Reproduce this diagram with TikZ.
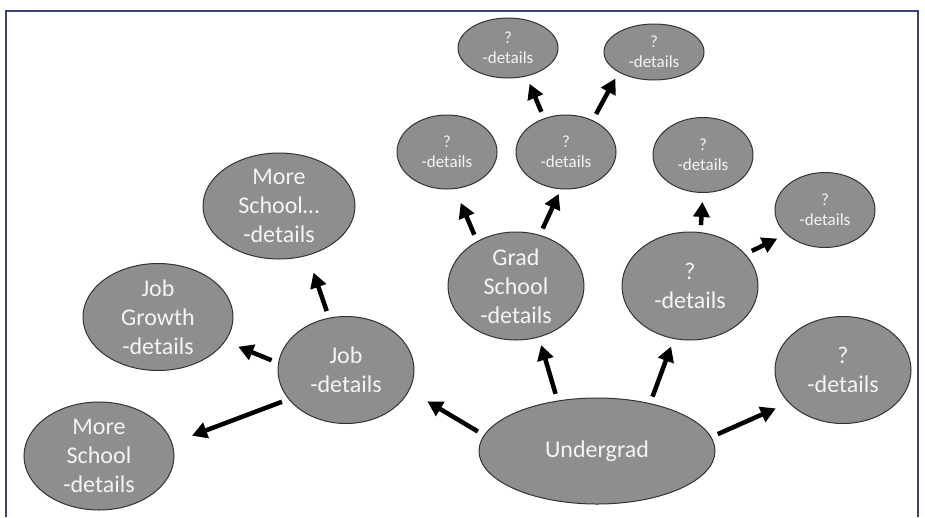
\documentclass[tikz,border=0pt]{standalone}
\usepackage{fontspec}
\setmainfont{Carlito}
\usetikzlibrary{shapes.geometric,arrows.meta}
\definecolor{ovalgrey}{RGB}{142,142,142}
\definecolor{ovaltext}{RGB}{244,244,244}
\definecolor{framecol}{RGB}{58,66,122}

\begin{document}
\begin{tikzpicture}[x=1pt,y=-1pt,
  bigoval/.style={ellipse, draw=black!80, line width=1pt, fill=ovalgrey, text=ovaltext,
    align=center, inner xsep=0pt, inner ysep=-6pt, font=\fontsize{24}{29}\selectfont},
  smalloval/.style={bigoval, font=\fontsize{17}{20}\selectfont},
  arr/.style={-{Triangle[length=15pt,width=16pt]}, line width=4.5pt, shorten <=7pt}]
\useasboundingbox (0,0) rectangle (925,517);
\draw[framecol, line width=2pt] (6,517) -- (6,11) -- (918,11) -- (918,517);
\node[bigoval, minimum width=236pt, minimum height=106pt] (ug) at (597,451) {Undergrad};
\node[bigoval, minimum width=136pt, minimum height=107pt] (job) at (346,370) {Job\\-details};
\node[bigoval, minimum width=150pt, minimum height=107pt] (jobgrowth) at (158,317) {Job\\Growth\\-details};
\node[bigoval, minimum width=150pt, minimum height=108pt] (moreschool) at (99,456) {More\\School\\-details};
\node[bigoval, minimum width=152pt, minimum height=106pt] (moreschoolb) at (279,206) {More\\School…\\-details};
\node[bigoval, minimum width=136pt, minimum height=108pt] (grad) at (516,286) {Grad\\School\\-details};
\node[bigoval, minimum width=136pt, minimum height=108pt] (qmid) at (690,286) {?\\-details};
\node[bigoval, minimum width=136pt, minimum height=107pt] (qright) at (843,370) {?\\-details};
\node[smalloval, minimum width=100pt, minimum height=74pt] (gq1) at (447,152) {?\\-details};
\node[smalloval, minimum width=100pt, minimum height=74pt] (gq2) at (566,152) {?\\-details};
\node[smalloval, minimum width=100pt, minimum height=60pt] (gq3) at (508,48) {?\\-details};
\node[smalloval, minimum width=100pt, minimum height=56pt] (gq4) at (654,52) {?\\-details};
\node[smalloval, minimum width=100pt, minimum height=75pt] (qq1) at (703,155) {?\\-details};
\node[smalloval, minimum width=100pt, minimum height=75pt] (qq2) at (825,210) {?\\-details};
\draw[arr, shorten >=21pt] (ug.172) -- (job.-18);
\draw[arr, shorten >=8pt] (ug.128) -- (grad.-66);
\draw[arr, shorten >=8pt] (ug.42) -- (qmid.-107);
\draw[arr, shorten >=14pt] (ug.7.5) -- (qright.-149.5);
\draw[arr, shorten >=21pt] (job.207) -- (moreschool.10);
\draw[arr, shorten >=14pt] (job.174) -- (jobgrowth.-20);
\draw[arr, shorten >=18pt] (job.108) -- (moreschoolb.-60);
\draw[arr, shorten >=15pt] (grad.131) -- (gq1.-78);
\draw[arr, shorten >=5pt] (grad.65) -- (gq2.-98);
\draw[arr, shorten >=8pt] (gq2.123) -- (gq3.-57);
\draw[arr, shorten >=7pt] (gq2.50) -- (gq4.210);
\draw[arr, shorten >=9pt] (qmid.79) -- (qq1.-90);
\draw[arr, shorten >=10pt] (qmid.30) -- (qq2.-148);
\end{tikzpicture}
\end{document}
